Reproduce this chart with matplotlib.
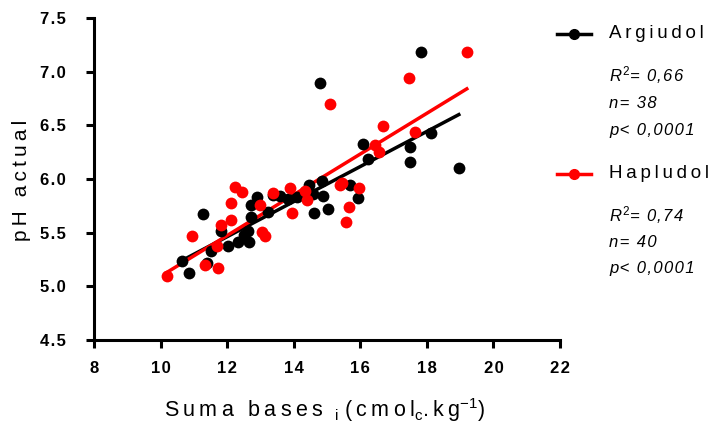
import numpy as np
import matplotlib
matplotlib.use("Agg")
import matplotlib.pyplot as plt
from matplotlib.lines import Line2D

plt.rcParams["font.family"] = ["Liberation Sans", "DejaVu Sans"]
plt.rcParams["mathtext.fontset"] = "custom"
plt.rcParams["mathtext.rm"] = "Liberation Sans"
plt.rcParams["mathtext.it"] = "Liberation Sans:italic"

# Argiudol points (suma bases, pH)
arg_x = [10.64, 10.85, 11.27, 11.39, 11.51, 11.81, 12.02, 12.32, 12.50, 12.65,
         12.62, 12.71, 12.71, 12.89, 13.23, 13.38, 13.59, 13.83, 14.10, 14.46,
         14.58, 14.85, 14.88, 14.61, 15.03, 15.69, 15.93, 16.08, 16.23, 17.49,
         17.49, 18.12, 18.96, 17.82, 14.79]
arg_y = [5.24, 5.12, 5.67, 5.22, 5.33, 5.52, 5.38, 5.41, 5.48, 5.41,
         5.52, 5.65, 5.76, 5.83, 5.69, 5.85, 5.84, 5.81, 5.83, 5.94,
         5.86, 5.98, 5.84, 5.68, 5.72, 5.94, 5.82, 6.33, 6.19, 6.30,
         6.16, 6.43, 6.10, 7.18, 6.89]

# Hapludol points
hap_x = [10.19, 10.94, 11.33, 11.72, 11.69, 11.81, 12.11, 12.11, 12.23, 12.44,
         12.98, 13.05, 13.14, 13.38, 13.89, 13.95, 14.34, 14.40, 15.39, 15.66,
         15.57, 15.96, 15.45, 16.44, 16.56, 16.68, 17.64, 17.46, 19.20, 15.09]
hap_y = [5.10, 5.47, 5.20, 5.17, 5.38, 5.57, 5.78, 5.62, 5.93, 5.88,
         5.76, 5.51, 5.47, 5.87, 5.92, 5.68, 5.89, 5.80, 5.94, 5.74,
         5.60, 5.92, 5.96, 6.32, 6.25, 6.49, 6.44, 6.94, 7.18, 6.70]

# regression lines (start/end x, start/end pH)
arg_fit_x = [10.64, 18.96]
arg_fit_y = [5.24, 6.60]
hap_fit_x = [10.19, 19.20]
hap_fit_y = [5.13, 6.84]

arg_stats = ["0,66", "n= 38", "p< 0,0001"]
hap_stats = ["0,74", "n= 40", "p< 0,0001"]


def spaced(s, sp="\u2009"):
    # GraphPad style letter spacing
    return sp.join(s)


W, H = 709, 425
fig = plt.figure(figsize=(W / 100, H / 100), dpi=100)
ax = fig.add_axes([94 / W, 1 - 340 / H, (560 - 94) / W, (340 - 18) / H])

ax.plot(arg_fit_x, arg_fit_y, color="black", lw=2.5, zorder=2)
ax.plot(hap_fit_x, hap_fit_y, color="red", lw=2.5, zorder=2)
ax.plot(arg_x, arg_y, "o", color="black", ms=8.5, mew=0, zorder=3)
ax.plot(hap_x, hap_y, "o", color="red", ms=8.5, mew=0, zorder=3)

ax.set_xlim(8, 22)
ax.set_ylim(4.5, 7.5)
ax.set_xticks(np.arange(8, 23, 2))
ax.set_yticks(np.arange(4.5, 7.6, 0.5))
ax.xaxis.set_major_formatter(plt.FuncFormatter(lambda v, p: spaced("%d" % v, "\u200a")))
ax.yaxis.set_major_formatter(plt.FuncFormatter(lambda v, p: spaced("%.1f" % v, "\u200a")))
for s in ["top", "right"]:
    ax.spines[s].set_visible(False)
for s in ["left", "bottom"]:
    ax.spines[s].set_linewidth(2.2)
ax.tick_params(width=2.2, length=6, labelsize=12, direction="out")
ax.tick_params(axis="x", pad=9)
ax.tick_params(axis="y", pad=14)
for lab in ax.get_xticklabels() + ax.get_yticklabels():
    lab.set_fontweight("bold")

fig.text(22 / W, 1 - 180 / H, spaced("pH actual"), fontsize=15, rotation=90,
         ha="center", va="center")
xlabel = (spaced("Suma bases") + "  $_{\\mathregular{i}}$ " + spaced("(cmol")
          + "$_{\\mathregular{c}}$" + spaced(".kg") + "$^{\\mathregular{-1}}$" + ")")
fig.text(325 / W, 1 - 410 / H, xlabel, fontsize=15.5, ha="center", va="center")

# legend drawn by hand
for color, name, stats, y0, ys in [("black", "Argiudol", arg_stats, 34, [75, 103, 130]),
                                  ("red", "Hapludol", hap_stats, 174, [215, 242, 268])]:
    fig.add_artist(Line2D([557 / W, 591 / W], [1 - y0 / H] * 2, color=color, lw=2.5))
    fig.add_artist(Line2D([574 / W], [1 - y0 / H], marker="o", color=color, ms=7))
    fig.text(609 / W, 1 - y0 / H, spaced(name), fontsize=13.5, va="center", ha="left")
    r2 = "$\\mathit{R}^{\\mathit{2}}$" + spaced("= " + stats[0], "\u200a")
    lines = [r2, spaced(stats[1], "\u200a"), spaced(stats[2], "\u200a")]
    for t, yy in zip(lines, ys):
        fig.text(609 / W, 1 - yy / H, t, fontsize=12, style="italic", va="center", ha="left")

fig.savefig("out.png", dpi=100)
